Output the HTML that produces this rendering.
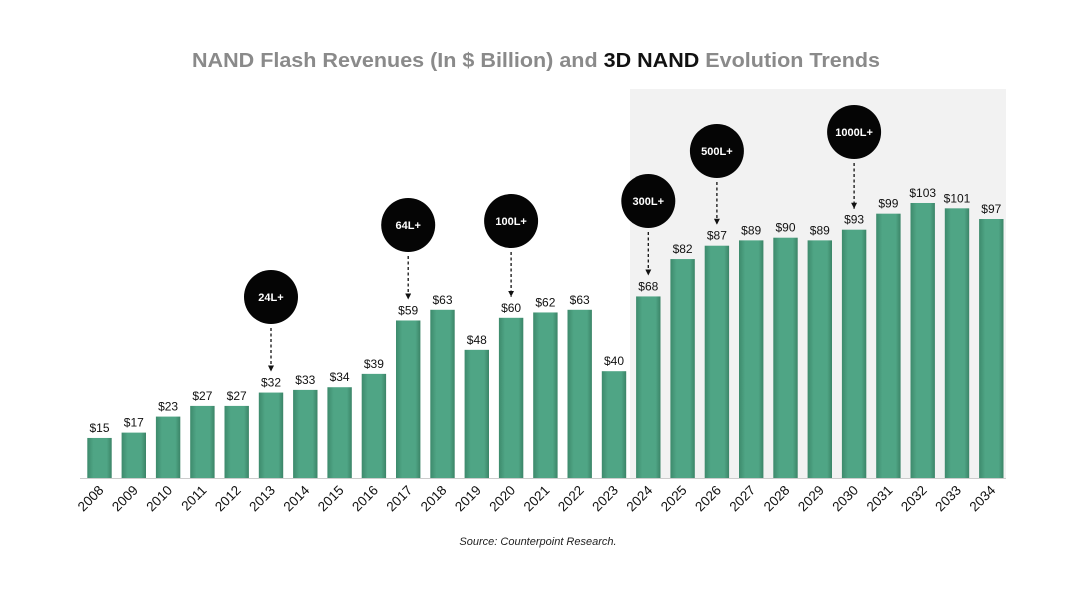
<!DOCTYPE html>
<html><head><meta charset="utf-8"><style>
body{margin:0;background:#fff;width:1080px;height:589px;overflow:hidden}
svg{display:block;font-family:"Liberation Sans",Arial,sans-serif}
</style></head><body>
<svg id="chart" width="1080" height="589" viewBox="0 0 1080 589">
<defs>
<linearGradient id="bg" x1="0" x2="1" y1="0" y2="0">
<stop offset="0" stop-color="#3d8a6c"/><stop offset="0.25" stop-color="#4fa585"/><stop offset="0.8" stop-color="#4fa585"/><stop offset="1" stop-color="#3b8467"/>
</linearGradient>
<marker id="ah" markerWidth="6" markerHeight="6" refX="6" refY="3" orient="auto" viewBox="0 0 6 6" markerUnits="userSpaceOnUse"><path d="M0,0 L6,3 L0,6 z" fill="#111"/></marker>
</defs>
<rect x="630" y="89" width="376" height="389" fill="#f2f2f2"/>
<text x="192" y="67" font-size="20" font-weight="bold" fill="#8a8a8a" textLength="688" lengthAdjust="spacingAndGlyphs">NAND Flash Revenues (In $ Billion) and <tspan fill="#111">3D NAND</tspan> Evolution Trends</text>
<g id="bars"></g>
<line x1="80" y1="478.5" x2="1006" y2="478.5" stroke="#ccc" stroke-width="1"/>
<g id="annots"></g>
<text x="538" y="545" font-size="11" font-style="italic" fill="#222" text-anchor="middle">Source: Counterpoint Research.</text>
</svg>
<script>
const years=["2008","2009","2010","2011","2012","2013","2014","2015","2016","2017","2018","2019","2020","2021","2022","2023","2024","2025","2026","2027","2028","2029","2030","2031","2032","2033","2034"];
const revenues=[15,17,23,27,27,32,33,34,39,59,63,48,60,62,63,40,68,82,87,89,90,89,93,99,103,101,97];
const milestoneYears=["2013","2017","2020","2024","2026","2030"];
const milestoneLabels=["24L+","64L+","100L+","300L+","500L+","1000L+"];
const milestoneBubbleY=[297,225,221,201,151,132];
const NS="http://www.w3.org/2000/svg";
const x0=87.3,step=34.3,bw=24.4,base=478,k=2.67;
function xPos(i){return x0+i*step;}
function yPos(v){return base-v*k;}
const gb=document.getElementById('bars');
revenues.forEach((v,i)=>{
  const r=document.createElementNS(NS,'rect');
  r.setAttribute('x',xPos(i));r.setAttribute('y',yPos(v));
  r.setAttribute('width',bw);r.setAttribute('height',v*k);
  r.setAttribute('fill','url(#bg)');
  
  
  gb.appendChild(r);
  const t=document.createElementNS(NS,'text');
  t.setAttribute('x',xPos(i)+bw/2);t.setAttribute('y',yPos(v)-6);
  t.setAttribute('font-size','12');t.setAttribute('text-anchor','middle');t.setAttribute('fill','#111');
  t.textContent='$'+v;
  
  
  gb.appendChild(t);
  const c=xPos(i)+bw/2+5;
  const l=document.createElementNS(NS,'text');
  l.setAttribute('x',c);l.setAttribute('y',491);
  l.setAttribute('font-size','13.5');l.setAttribute('text-anchor','end');l.setAttribute('fill','#111');
  l.setAttribute('transform','rotate(-45 '+c+' 491)');
  l.textContent=years[i];
  
  
  gb.appendChild(l);
});
const ga=document.getElementById('annots');
milestoneYears.forEach((y,j)=>{
  const i=years.indexOf(y);
  const cx=xPos(i)+bw/2, cy=milestoneBubbleY[j], r=27;
  const ln=document.createElementNS(NS,'line');
  ln.setAttribute('x1',cx);ln.setAttribute('x2',cx);
  ln.setAttribute('y1',cy+r+4);ln.setAttribute('y2',yPos(revenues[i])-21);
  ln.setAttribute('stroke','#111');ln.setAttribute('stroke-width','1.3');ln.setAttribute('stroke-dasharray','3 2.5');
  ln.setAttribute('marker-end','url(#ah)');
  
  
  ga.appendChild(ln);
  const c=document.createElementNS(NS,'circle');
  c.setAttribute('cx',cx);c.setAttribute('cy',cy);c.setAttribute('r',r);c.setAttribute('fill','#050505');
  
  
  ga.appendChild(c);
  const t=document.createElementNS(NS,'text');
  t.setAttribute('x',cx);t.setAttribute('y',cy+4);t.setAttribute('fill','#fff');
  t.setAttribute('font-size','11');t.setAttribute('font-weight','bold');t.setAttribute('text-anchor','middle');
  t.textContent=milestoneLabels[j];
  
  
  ga.appendChild(t);
});
</script>
</body></html>
